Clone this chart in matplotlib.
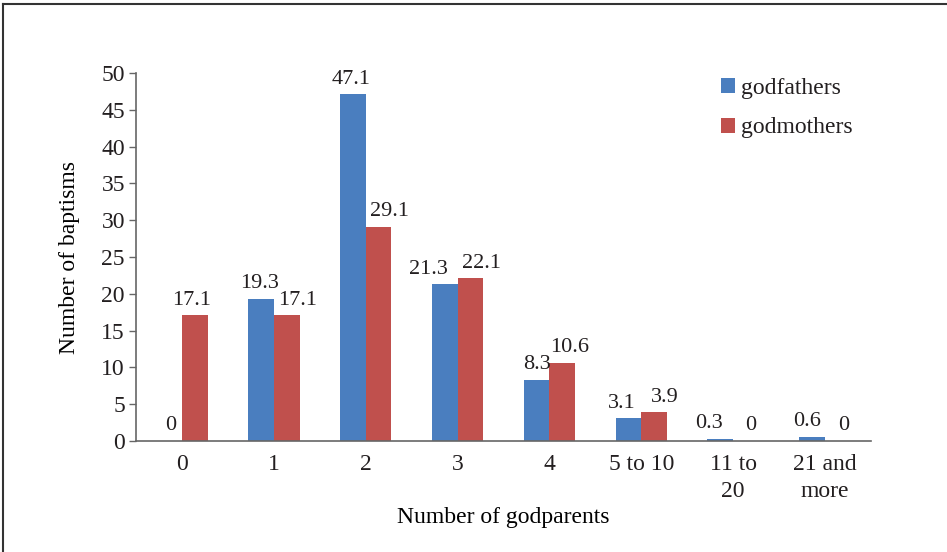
import matplotlib
matplotlib.use("Agg")
import matplotlib.pyplot as plt
from matplotlib.lines import Line2D
import numpy as np

categories = ["0", "1", "2", "3", "4", "5 to 10", "11 to\n20", "21 and\nmore"]
godfathers = [0, 19.3, 47.1, 21.3, 8.3, 3.1, 0.3, 0.6]
godmothers = [17.1, 17.1, 29.1, 22.1, 10.6, 3.9, 0, 0]
y_ticks = [0, 5, 10, 15, 20, 25, 30, 35, 40, 45, 50]

# horizontal nudges (points) so neighbouring value labels stay apart
father_nudge = [1, -1, -1, -12, 0, -5, -8, -4]
mother_nudge = [-2, 8, 8, 8, 5, 8, 3, 4]

BLUE = "#4a7ebf"
RED = "#c0504d"
TEXT = "#231f20"

plt.rcParams["font.family"] = ["Liberation Serif", "DejaVu Serif"]
plt.rcParams["text.color"] = TEXT
plt.rcParams["xtick.color"] = TEXT
plt.rcParams["ytick.color"] = TEXT

fig = plt.figure(figsize=(9.47, 5.52), dpi=100)
W, H = 947, 552
ax = fig.add_axes([136 / W, 1 - 441 / H, (871 - 136) / W, (441 - 73) / H])

x = np.arange(len(categories))
bw = 0.28
b1 = ax.bar(x - bw / 2, godfathers, bw, color=BLUE, label="godfathers")
b2 = ax.bar(x + bw / 2, godmothers, bw, color=RED, label="godmothers")

for bars, vals, nudge in ((b1, godfathers, father_nudge), (b2, godmothers, mother_nudge)):
    for rect, v, dx in zip(bars, vals, nudge):
        ax.annotate(f"{v:g}", (rect.get_x() + rect.get_width() / 2, v),
                    xytext=(dx, 4), textcoords="offset points",
                    ha="center", va="bottom", fontsize=16, color=TEXT)

ax.set_xlim(-0.5, len(categories) - 0.5)
ax.set_ylim(0, 50)
ax.set_yticks(y_ticks)
ax.set_xticks(x)
ax.set_xticklabels(categories, fontsize=17, linespacing=1.4)
ax.tick_params(axis="y", labelsize=17, direction="out", length=5, width=1, color="#666666", pad=3)
ax.tick_params(axis="x", length=0, pad=9)

for s in ("top", "right"):
    ax.spines[s].set_visible(False)
for s in ("left", "bottom"):
    ax.spines[s].set_color("#666666")
    ax.spines[s].set_linewidth(1.2)

ax.set_ylabel("Number of baptisms", fontsize=17, labelpad=15)
ax.set_xlabel("Number of godparents", fontsize=17, labelpad=4)

leg = ax.legend(loc="upper left", bbox_to_anchor=(721 / W, 1 - 78 / H),
                bbox_transform=fig.transFigure, frameon=False,
                fontsize=17, handlelength=0.6, handleheight=0.6,
                handletextpad=0.25, labelspacing=0.78, borderpad=0, borderaxespad=0)

# Outer frame line on the left and top edges
fig.add_artist(Line2D([3 / W, 3 / W], [0, 1 - 4 / H], color="#333333", lw=1.5))
fig.add_artist(Line2D([3 / W, 1], [1 - 4 / H, 1 - 4 / H], color="#333333", lw=1.5))

fig.savefig("out.png", dpi=100, facecolor="white")
